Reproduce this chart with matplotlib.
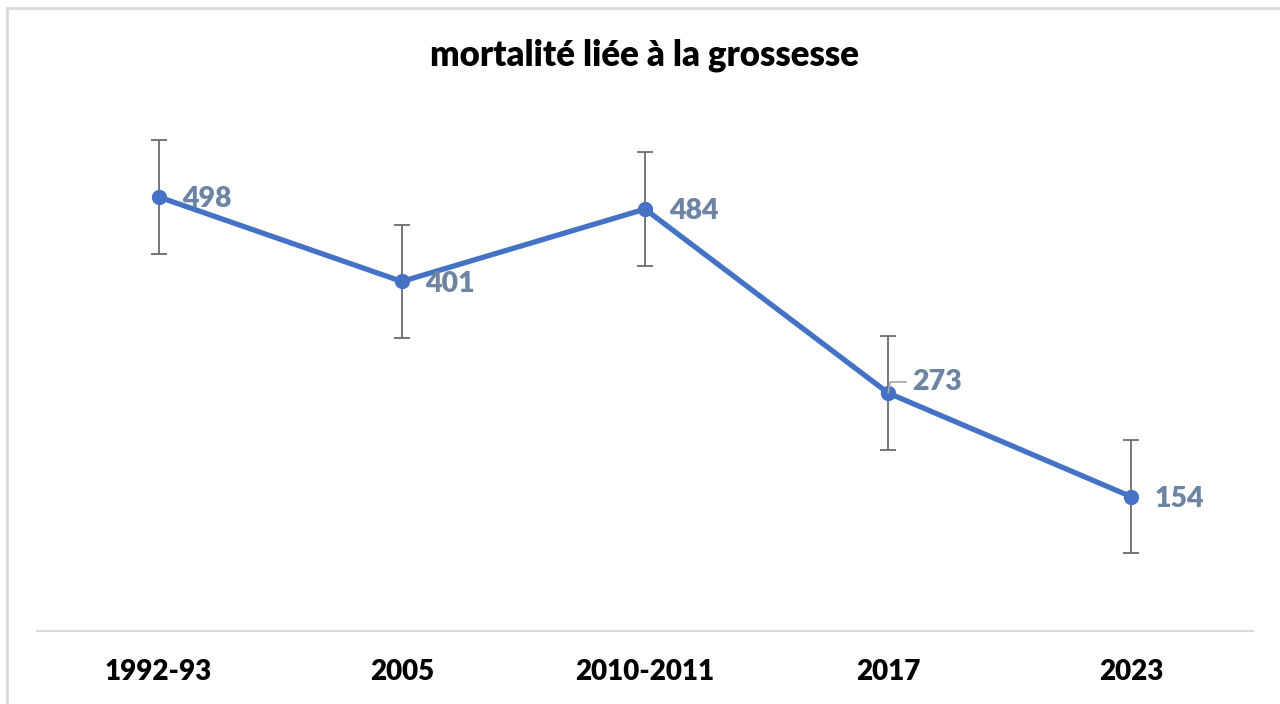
# mortalité liée à la grossesse - line with error bars
import matplotlib.pyplot as plt
from matplotlib.patches import Rectangle

plt.rcParams['font.family'] = ['Lato', 'DejaVu Sans']

# DATA
periods = ['1992-93', '2005', '2010-2011', '2017', '2023']
deaths = [498, 401, 484, 273, 154]
err = [65, 65, 65, 65, 65]

line_col = '#4472C4'
label_col = '#6E84A3'

fig = plt.figure(figsize=(12.8, 7.04), dpi=100)
ax = fig.add_axes([37 / 1280, 1 - 631 / 704, 1216 / 1280, 523 / 704])

x = list(range(len(periods)))
ax.errorbar(x, deaths, yerr=err, fmt='none', ecolor='#6b6b6b', elinewidth=1.3,
            capsize=6, capthick=1.3, zorder=2)
ax.plot(x, deaths, color=line_col, lw=3.8, marker='o', ms=10, zorder=3)

# data labels
for i, v in enumerate(deaths):
    if v == 273:
        ax.annotate(str(v), xy=(i, v), xytext=(17, 8), textcoords='offset points',
                    fontsize=20.5, fontweight='heavy', color=label_col, va='center',
                    arrowprops=dict(arrowstyle='-', color='#a6a6a6', lw=1.2,
                                    shrinkA=2, shrinkB=0,
                                    connectionstyle='angle,angleA=0,angleB=80,rad=0'))
    else:
        ax.annotate(str(v), xy=(i, v), xytext=(17, -1.5), textcoords='offset points',
                    fontsize=20.5, fontweight='heavy', color=label_col, va='center')

ax.set_xlim(-0.5, len(periods) - 0.5)
ax.set_ylim(0, 600)
ax.set_xticks(x)
ax.set_xticklabels(periods, fontsize=20, fontweight='heavy')
ax.tick_params(axis='x', length=0, pad=20)
ax.set_yticks([])
for s in ['top', 'right', 'left']:
    ax.spines[s].set_visible(False)
ax.spines['bottom'].set_color('#d9d9d9')
ax.spines['bottom'].set_linewidth(1.5)

fig.text(645 / 1280, 1 - 55 / 704, 'mortalité liée à la grossesse', ha='center',
         va='center', fontsize=25, fontweight='heavy')

# chart border
fig.patches.append(Rectangle((7 / 1280, -0.1), 1.2, 1.1 - 8 / 704, transform=fig.transFigure,
                             fill=False, edgecolor='#d9d9d9', lw=2))

fig.savefig('out.png', dpi=100)
